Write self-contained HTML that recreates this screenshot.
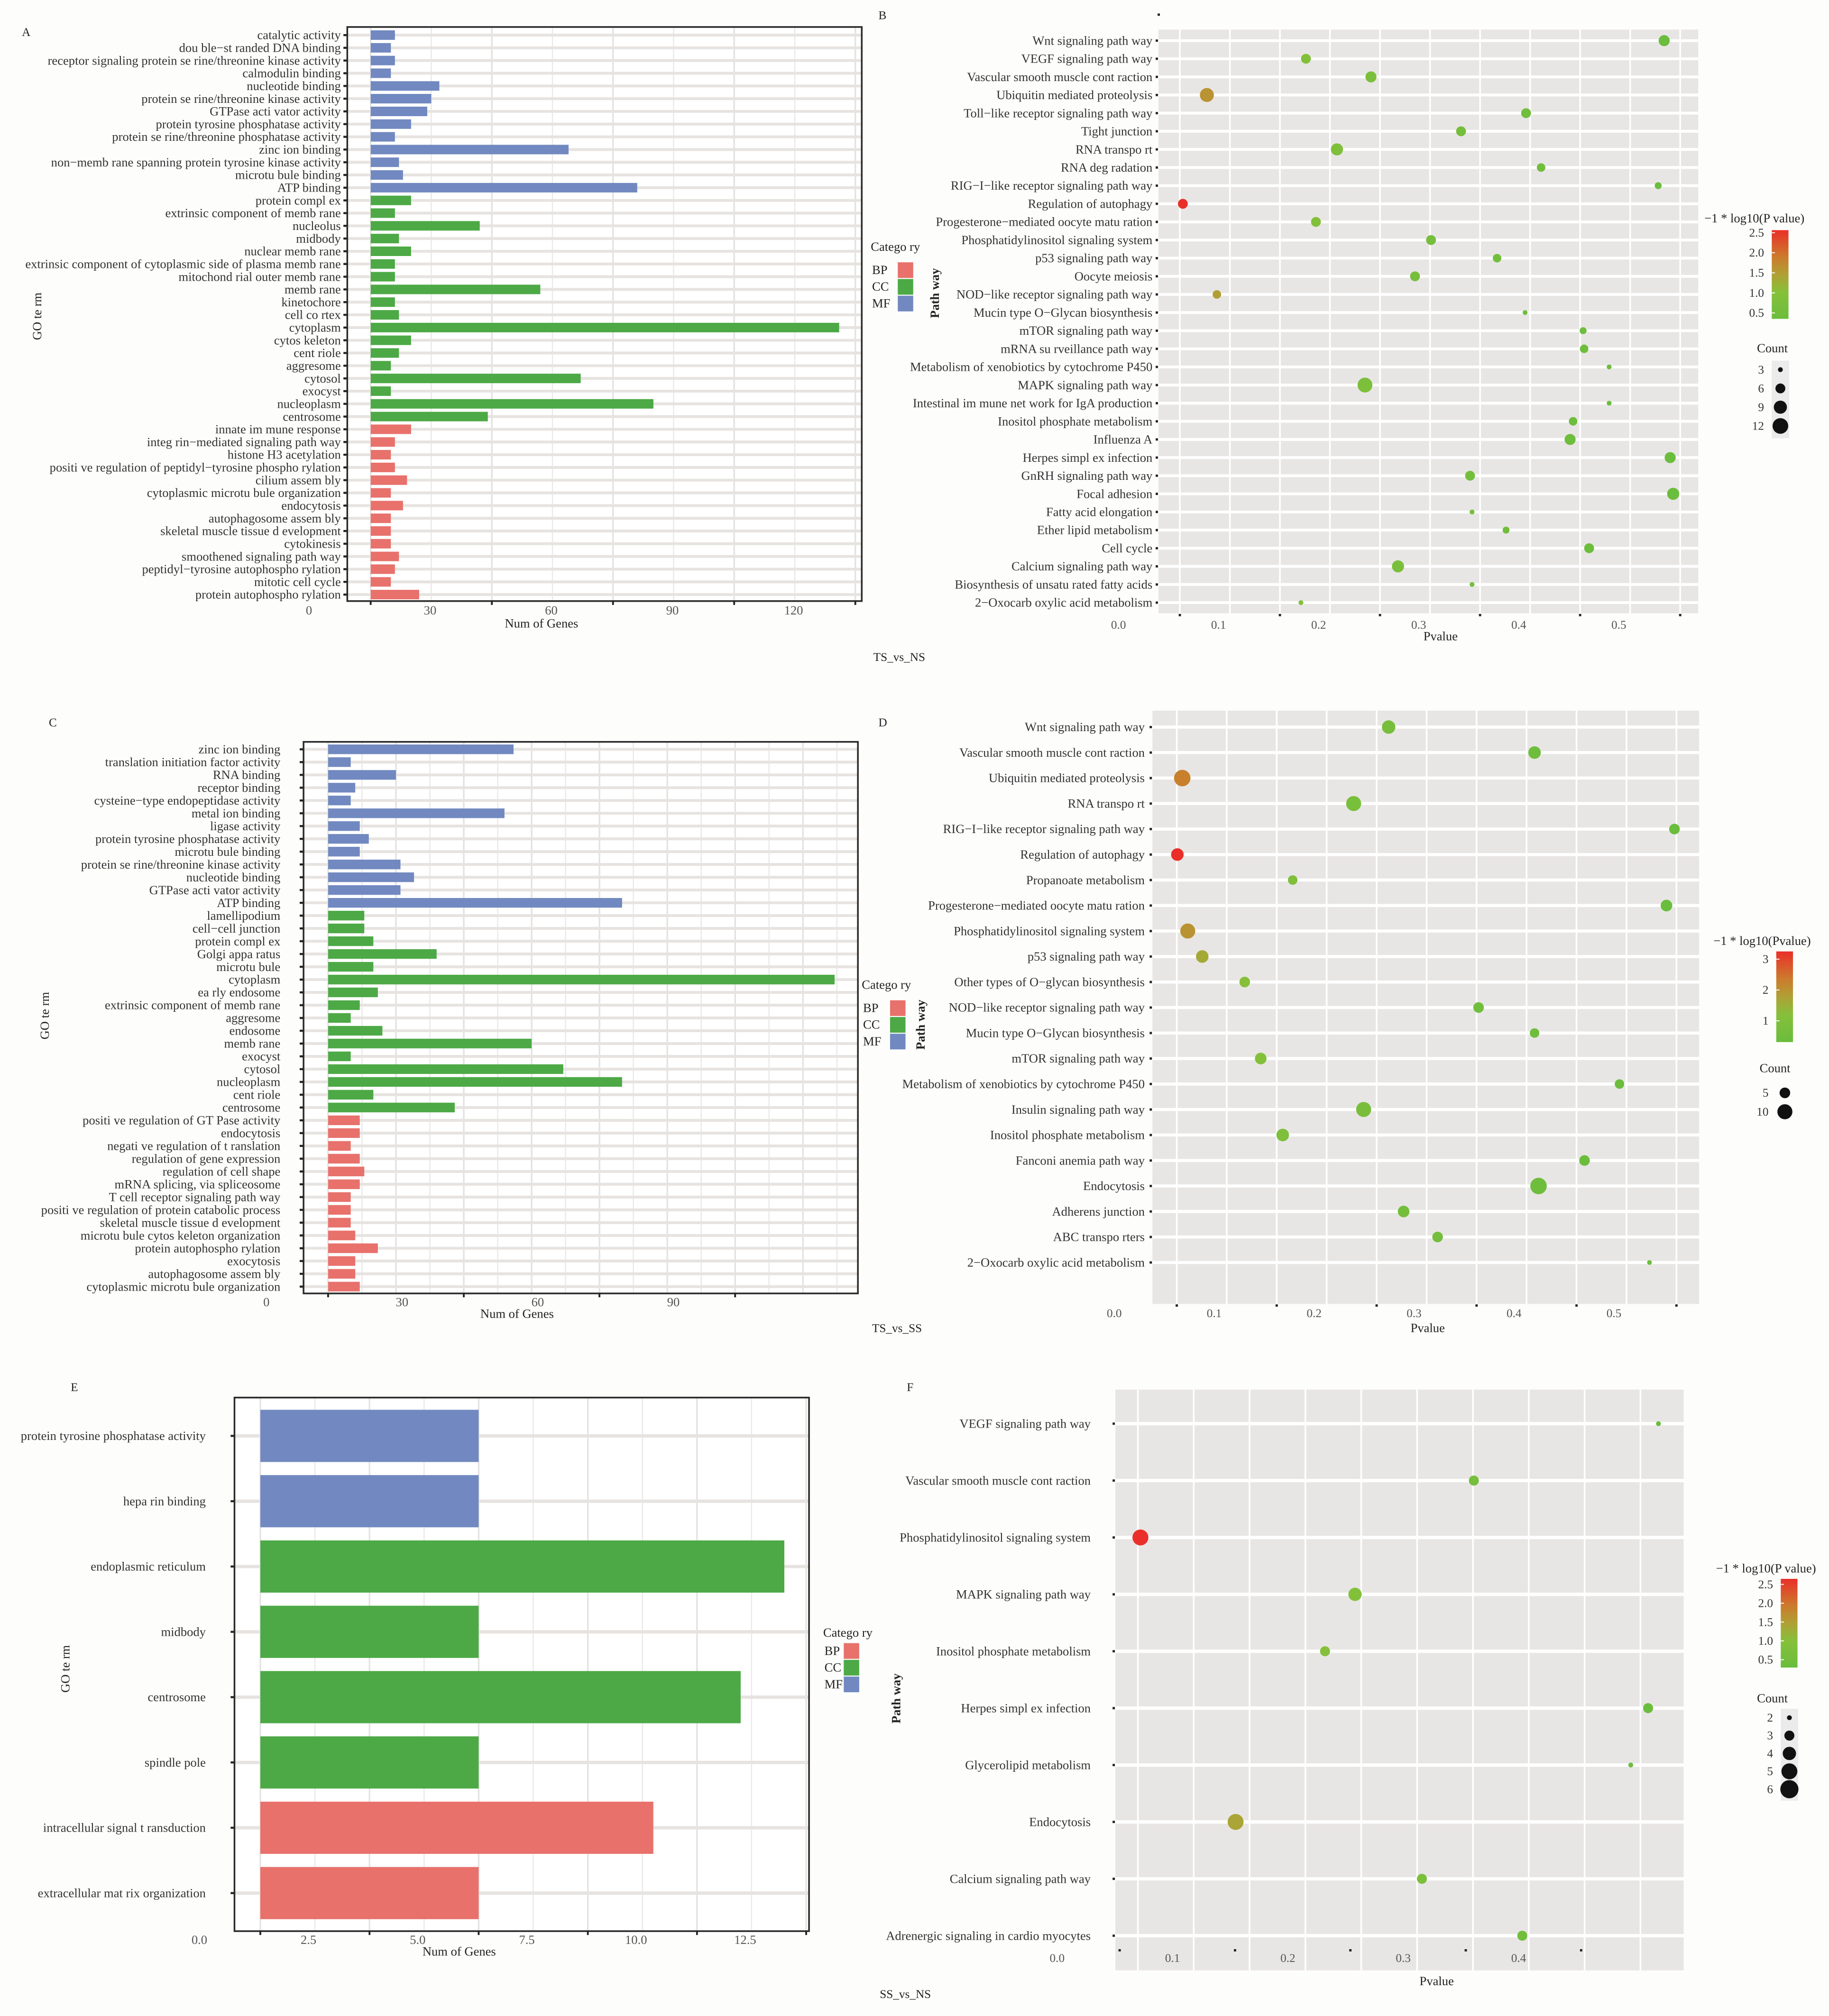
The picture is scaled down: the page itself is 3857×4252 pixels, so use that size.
<!DOCTYPE html>
<html><head><meta charset="utf-8"><title>GO and KEGG enrichment</title>
<style>
html,body{margin:0;padding:0;background:#fdfdfc;}
svg{display:block;font-family:"Liberation Serif",serif;}
</style></head>
<body>
<svg id="chart" xmlns="http://www.w3.org/2000/svg" width="3857" height="4252" viewBox="0 0 1422 1568" preserveAspectRatio="none">
<defs>
<linearGradient id="pgrad" x1="0" y1="1" x2="0" y2="0">
<stop offset="0" stop-color="#6abd3d"/><stop offset="0.3" stop-color="#86c03a"/><stop offset="0.5" stop-color="#b0a035"/><stop offset="0.7" stop-color="#cc7a2c"/><stop offset="1" stop-color="#ea2f2a"/>
</linearGradient>
</defs>
<rect x="0" y="0" width="1422" height="1568" fill="#fdfdfc"/>
</svg>
<script>
// ---------- Panel A data ----------
const aTerms=["catalytic activity","dou ble−st randed DNA binding","receptor signaling protein se rine/threonine kinase activity","calmodulin binding","nucleotide binding","protein se rine/threonine kinase activity","GTPase acti vator activity","protein tyrosine phosphatase activity","protein se rine/threonine phosphatase activity","zinc ion binding","non−memb rane spanning protein tyrosine kinase activity","microtu bule binding","ATP binding","protein compl ex","extrinsic component of memb rane","nucleolus","midbody","nuclear memb rane","extrinsic component of cytoplasmic side of plasma memb rane","mitochond rial outer memb rane","memb rane","kinetochore","cell co rtex","cytoplasm","cytos keleton","cent riole","aggresome","cytosol","exocyst","nucleoplasm","centrosome","innate im mune response","integ rin−mediated signaling path way","histone H3 acetylation","positi ve regulation of peptidyl−tyrosine phospho rylation","cilium assem bly","cytoplasmic microtu bule organization","endocytosis","autophagosome assem bly","skeletal muscle tissue d evelopment","cytokinesis","smoothened signaling path way","peptidyl−tyrosine autophospho rylation","mitotic cell cycle","protein autophospho rylation"];
const aValues=[6,5,6,5,17,15,14,10,6,49,7,8,66,10,6,27,7,10,6,6,42,6,7,116,10,7,5,52,5,70,29,10,6,5,6,9,5,8,5,5,5,7,6,5,12];
const aCats=["MF","MF","MF","MF","MF","MF","MF","MF","MF","MF","MF","MF","MF","CC","CC","CC","CC","CC","CC","CC","CC","CC","CC","CC","CC","CC","CC","CC","CC","CC","CC","BP","BP","BP","BP","BP","BP","BP","BP","BP","BP","BP","BP","BP","BP"];
const aTicks=[0,30,60,90,120];
const aTickLabels=["0","30","60","90","120"];

// ---------- Panel C data ----------
const cTerms=["zinc ion binding","translation initiation factor activity","RNA binding","receptor binding","cysteine−type endopeptidase activity","metal ion binding","ligase activity","protein tyrosine phosphatase activity","microtu bule binding","protein se rine/threonine kinase activity","nucleotide binding","GTPase acti vator activity","ATP binding","lamellipodium","cell−cell junction","protein compl ex","Golgi appa ratus","microtu bule","cytoplasm","ea rly endosome","extrinsic component of memb rane","aggresome","endosome","memb rane","exocyst","cytosol","nucleoplasm","cent riole","centrosome","positi ve regulation of GT Pase activity","endocytosis","negati ve regulation of t ranslation","regulation of gene expression","regulation of cell shape","mRNA splicing, via spliceosome","T cell receptor signaling path way","positi ve regulation of protein catabolic process","skeletal muscle tissue d evelopment","microtu bule cytos keleton organization","protein autophospho rylation","exocytosis","autophagosome assem bly","cytoplasmic microtu bule organization"];
const cValues=[41,5,15,6,5,39,7,9,7,16,19,16,65,8,8,10,24,10,112,11,7,5,12,45,5,52,65,10,28,7,7,5,7,8,7,5,5,5,6,11,6,6,7];
const cCats=["MF","MF","MF","MF","MF","MF","MF","MF","MF","MF","MF","MF","MF","CC","CC","CC","CC","CC","CC","CC","CC","CC","CC","CC","CC","CC","CC","CC","CC","BP","BP","BP","BP","BP","BP","BP","BP","BP","BP","BP","BP","BP","BP"];
const cTicks=[0,30,60,90];
const cTickLabels=["0","30","60","90"];

// ---------- Panel E data ----------
const eTerms=["protein tyrosine phosphatase activity","hepa rin binding","endoplasmic reticulum","midbody","centrosome","spindle pole","intracellular signal t ransduction","extracellular mat rix organization"];
const eValues=[5,5,12,5,11,5,9,5];
const eCats=["MF","MF","CC","CC","CC","CC","BP","BP"];
const eTicks=[0,2.5,5,7.5,10,12.5];
const eTickLabels=["0.0","2.5","5.0","7.5","10.0","12.5"];

// ---------- Panel B data ----------
const bPaths=["Wnt signaling path way","VEGF signaling path way","Vascular smooth muscle cont raction","Ubiquitin mediated proteolysis","Toll−like receptor signaling path way","Tight junction","RNA transpo rt","RNA deg radation","RIG−I−like receptor signaling path way","Regulation of autophagy","Progesterone−mediated oocyte matu ration","Phosphatidylinositol signaling system","p53 signaling path way","Oocyte meiosis","NOD−like receptor signaling path way","Mucin type O−Glycan biosynthesis","mTOR signaling path way","mRNA su rveillance path way","Metabolism of xenobiotics by cytochrome P450","MAPK signaling path way","Intestinal im mune net work for IgA production","Inositol phosphate metabolism","Influenza A","Herpes simpl ex infection","GnRH signaling path way","Focal adhesion","Fatty acid elongation","Ether lipid metabolism","Cell cycle","Calcium signaling path way","Biosynthesis of unsatu rated fatty acids","2−Oxocarb oxylic acid metabolism"];
const bPvalues=[0.484,0.126,0.191,0.027,0.346,0.281,0.157,0.361,0.478,0.003,0.136,0.251,0.317,0.235,0.037,0.345,0.403,0.404,0.429,0.185,0.429,0.393,0.390,0.490,0.290,0.493,0.292,0.326,0.409,0.218,0.292,0.121];
const bCounts=[7,6,7,10,6,6,8,5,4,6,6,6,5,6,5,3,4,5,3,11,3,5,7,7,6,8,3,4,6,8,3,3];
const bTicks=[0,0.1,0.2,0.3,0.4,0.5];
const bTickLabels=["0.0","0.1","0.2","0.3","0.4","0.5"];
const bColorLabels=["2.5","2.0","1.5","1.0","0.5"];
const bSizeLabels=[3,6,9,12];

// ---------- Panel D data ----------
const dPaths=["Wnt signaling path way","Vascular smooth muscle cont raction","Ubiquitin mediated proteolysis","RNA transpo rt","RIG−I−like receptor signaling path way","Regulation of autophagy","Propanoate metabolism","Progesterone−mediated oocyte matu ration","Phosphatidylinositol signaling system","p53 signaling path way","Other types of O−glycan biosynthesis","NOD−like receptor signaling path way","Mucin type O−Glycan biosynthesis","mTOR signaling path way","Metabolism of xenobiotics by cytochrome P450","Insulin signaling path way","Inositol phosphate metabolism","Fanconi anemia path way","Endocytosis","Adherens junction","ABC transpo rters","2−Oxocarb oxylic acid metabolism"];
const dPvalues=[0.212,0.358,0.0055,0.177,0.498,0.0006,0.116,0.490,0.011,0.0255,0.068,0.302,0.358,0.084,0.443,0.187,0.106,0.408,0.362,0.227,0.261,0.473];
const dCounts=[8,7,12,10,5,7,4,6,10,7,5,5,4,6,4,10,7,5,12,6,5,1];
const dTicks=[0,0.1,0.2,0.3,0.4,0.5];
const dTickLabels=["0.0","0.1","0.2","0.3","0.4","0.5"];
const dColorLabels=["3","2","1"];
const dSizeLabels=[5,10];

// ---------- Panel F data ----------
const fPaths=["VEGF signaling path way","Vascular smooth muscle cont raction","Phosphatidylinositol signaling system","MAPK signaling path way","Inositol phosphate metabolism","Herpes simpl ex infection","Glycerolipid metabolism","Endocytosis","Calcium signaling path way","Adrenergic signaling in cardio myocytes"];
const fPvalues=[0.467,0.307,0.018,0.204,0.178,0.458,0.443,0.1005,0.262,0.349];
const fCounts=[2,3,5,4,3,3,2,5,3,3];
const fTicks=[0,0.1,0.2,0.3,0.4];
const fTickLabels=["0.0","0.1","0.2","0.3","0.4"];
const fColorLabels=["2.5","2.0","1.5","1.0","0.5"];
const fSizeLabels=[2,3,4,5,6];

const NS="http://www.w3.org/2000/svg";
const svg=document.getElementById("chart");
const CATCOL={BP:"#e8716c",CC:"#4da946",MF:"#7189c0"};
const FS=9.8;
function mk(tag,attrs,parent){const e=document.createElementNS(NS,tag);for(const k in attrs)e.setAttribute(k,attrs[k]);(parent||svg).appendChild(e);return e;}
function txt(s,x,y,size,anchor,parent,extra){const t=mk("text",Object.assign({x:x,y:y,"font-size":size,"text-anchor":anchor||"start",fill:"#333"},extra||{}),parent);t.setAttribute("xml:space","preserve");t.textContent=s;return t;}

function lerp(a,b,t){return a+(b-a)*t;}
const STOPS=[[0,[106,189,61]],[0.3,[134,192,58]],[0.5,[176,160,53]],[0.7,[204,122,44]],[1,[234,47,42]]];
function colorAt(t){t=Math.max(0,Math.min(1,t));for(let i=1;i<STOPS.length;i++){if(t<=STOPS[i][0]){const a=STOPS[i-1],b=STOPS[i];const u=(t-a[0])/(b[0]-a[0]);return "rgb("+a[1].map((v,k)=>Math.round(lerp(v,b[1][k],u))).join(",")+")";}}return "rgb(234,47,42)";}

function barPanel(cfg,terms,values,cats){
  const g=mk("g",{});
  
  
  const xs=v=>cfg.zx+v*cfg.unit;
  const ys=i=>cfg.rowY0+i*cfg.pitch;
  mk("rect",{x:cfg.x0,y:cfg.y0,width:cfg.x1-cfg.x0,height:cfg.y1-cfg.y0,fill:"#ffffff"},g);
  for(let v=cfg.gridStep/2;xs(v)<cfg.x1;v+=cfg.gridStep){const l=mk("line",{x1:xs(v),x2:xs(v),y1:cfg.y0,y2:cfg.y1,stroke:"#ebe9e7","stroke-width":0.9},g);}
  for(let v=0;xs(v)<cfg.x1;v+=cfg.gridStep){const l=mk("line",{x1:xs(v),x2:xs(v),y1:cfg.y0,y2:cfg.y1,stroke:"#e4e2e0","stroke-width":1.2},g);}
  terms.forEach((t,i)=>{const l=mk("line",{x1:cfg.x0,x2:cfg.x1,y1:ys(i),y2:ys(i),stroke:"#e6e3e0","stroke-width":cfg.hgw},g);});
  terms.forEach((t,i)=>{
    const b=mk("rect",{x:xs(0),y:ys(i)-cfg.barH/2,width:xs(values[i])-xs(0),height:cfg.barH,fill:CATCOL[cats[i]]},g);
    
    
    const tk=mk("rect",{x:cfg.x0-3,y:ys(i)-0.8,width:3,height:1.6,fill:"#222"},g);
    
    
    const lb=txt(t,cfg.textEnd,ys(i)+3.2,cfg.fs,"end",g);
    
    
  });
  const fr=mk("rect",{x:cfg.x0,y:cfg.y0,width:cfg.x1-cfg.x0,height:cfg.y1-cfg.y0,fill:"none",stroke:"#2a2a2a","stroke-width":1.3},g);
  
  
  cfg.ticks.forEach((v,i)=>{
    const tk=mk("rect",{x:xs(v)-0.7,y:cfg.y1,width:1.4,height:3,fill:"#222"},g);
    
    
    const lb=txt(cfg.tickLabels[i],xs(v)+cfg.labOff,cfg.labY,cfg.fs,"middle",g,{fill:"#555"});
    
    
  });
  const xt=txt("Num of Genes",cfg.xtX,cfg.xtY,cfg.fs,"middle",g,{fill:"#222"});
  
  
  const yt=txt("GO te rm",0,0,cfg.fs,"middle",g,{fill:"#222",transform:"translate("+cfg.ytX+","+cfg.ytY+") rotate(-90)"});
  
  
  const lg=mk("g",{},g);
  
  
  const lt=txt("Catego ry",cfg.lgX,cfg.lgY,cfg.fs,"start",lg,{fill:"#222"});
  
  
  ["BP","CC","MF"].forEach((c,k)=>{
    const sy=cfg.lgY+cfg.lgGap+k*cfg.lgH;
    const sw=mk("rect",{x:cfg.lgSX,y:sy,width:12,height:cfg.lgH-0.8,fill:CATCOL[c]},lg);
    
    
    const et=txt(c,cfg.lgX+1,sy+cfg.lgH*0.7,cfg.fs,"start",lg,{fill:"#222"});
    
    
  });
}

function bubblePanel(cfg,paths,pvals,counts,colorLabels,sizeLabels){
  const g=mk("g",{});
  
  
  const xs=p=>cfg.zx+p*cfg.unit;
  const ys=i=>cfg.rowY0+i*cfg.pitch;
  const lv=pvals.map(p=>-Math.log10(p));
  const vmin=Math.min(...lv),vmax=Math.max(...lv);
  mk("rect",{x:cfg.x0,y:cfg.y0,width:cfg.x1-cfg.x0,height:cfg.y1-cfg.y0,fill:"#e8e6e4"},g);
  for(let k=0;;k++){const v=cfg.gStart+k*cfg.gStep;if(xs(v)>cfg.x1)break;const l=mk("line",{x1:xs(v),x2:xs(v),y1:cfg.y0,y2:cfg.y1,stroke:"#ffffff","stroke-width":1.3},g);}
  paths.forEach((t,i)=>{const l=mk("line",{x1:cfg.x0,x2:cfg.x1,y1:ys(i),y2:ys(i),stroke:"#ffffff","stroke-width":cfg.hgw},g);});
  paths.forEach((t,i)=>{
    const c=mk("circle",{cx:xs(pvals[i]),cy:ys(i),r:cfg.rf(counts[i]),fill:colorAt((lv[i]-vmin)/(vmax-vmin))},g);
    
    
    const tk=mk("rect",{x:cfg.tickX,y:ys(i)-0.9,width:1.8,height:1.8,fill:"#222"},g);
    
    
    const lb=txt(t,cfg.textEnd,ys(i)+3.2,cfg.fs,"end",g);
    
    
  });
  cfg.ticks.forEach((v,i)=>{
    const tk=mk("rect",{x:xs(v)-0.9,y:cfg.tickY,width:1.8,height:1.8,fill:"#222"},g);
    
    
    const lb=txt(cfg.tickLabels[i],xs(v)+cfg.labOff,cfg.labY,cfg.fs-0.5,"middle",g,{fill:"#555"});
    
    
  });
  const xt=txt("Pvalue",cfg.xtX,cfg.xtY,cfg.fs,"middle",g,{fill:"#222"});
  
  
  const yt=txt("Path way",0,0,cfg.fs,"middle",g,{fill:"#222","font-weight":"bold",transform:"translate("+cfg.ytX+","+cfg.ytY+") rotate(-90)"});
  
  
  const cb=mk("g",{},g);
  
  
  const ct=txt(cfg.cbTitle,cfg.cbTX,cfg.cbTY,cfg.fs,"middle",cb,{fill:"#222"});
  
  
  const bar=mk("rect",{x:cfg.cbX,y:cfg.cbY0,width:13,height:cfg.cbY1-cfg.cbY0,fill:"url(#pgrad)"},cb);
  
  
  colorLabels.forEach((s,k)=>{
    const y=cfg.cbLab0+k*cfg.cbLabStep;
    const l=txt(s,cfg.cbX-6,y+3,cfg.fs-0.5,"end",cb,{fill:"#333"});
    
    
    const m=mk("line",{x1:cfg.cbX,x2:cfg.cbX+2.5,y1:y,y2:y,stroke:"#fff","stroke-width":0.7},cb);
    
    
  });
  const sl=mk("g",{},g);
  
  
  const st=txt("Count",cfg.slTX,cfg.slTY,cfg.fs,"middle",sl,{fill:"#222"});
  
  
  if(cfg.slBg){const bg=mk("rect",{x:cfg.cbX,y:cfg.slY0-7,width:13.5,height:(sizeLabels.length)*cfg.slStep+2,fill:"#ebebeb"},sl);}
  sizeLabels.forEach((c,k)=>{
    const y=cfg.slY0+k*cfg.slStep;
    const d=mk("circle",{cx:cfg.cbX+6.7,cy:y,r:cfg.rf(c),fill:"#111"},sl);
    
    
    const l=txt(String(c),cfg.cbX-6,y+3,cfg.fs-0.5,"end",sl,{fill:"#333"});
    
    
  });
}

barPanel({name:"panel-a-go-bar-chart",x0:270,x1:670,y0:21,y1:467.5,zx:288.2,unit:3.14,gridStep:30,rowY0:27.3,pitch:9.89,barH:7.4,hgw:2.2,ticks:aTicks,tickLabels:aTickLabels,labOff:-48,labY:478,textEnd:265,fs:FS,xtX:421,xtY:488,ytX:32,ytY:246,lgX:677,lgY:195,lgGap:9,lgH:13,lgSX:698},aTerms,aValues,aCats);
barPanel({name:"panel-c-go-bar-chart",x0:236,x1:667,y0:577,y1:1006,zx:255.1,unit:3.516,gridStep:15,rowY0:582.8,pitch:9.95,barH:7.5,hgw:2.2,ticks:cTicks,tickLabels:cTickLabels,labOff:-48,labY:1016,textEnd:218,fs:FS,xtX:402,xtY:1025,ytX:38,ytY:790,lgX:670,lgY:769,lgGap:9,lgH:13,lgSX:692},cTerms,cValues,cCats);
barPanel({name:"panel-e-go-bar-chart",x0:182.3,x1:629,y0:1087,y1:1502,zx:202.4,unit:33.95,gridStep:2.5,rowY0:1116.8,pitch:50.8,barH:40.6,hgw:2.6,ticks:eTicks,tickLabels:eTickLabels,labOff:-47.4,labY:1512,textEnd:160,fs:FS,xtX:357,xtY:1521,ytX:54,ytY:1298,lgX:640,lgY:1273,lgGap:5,lgH:13,lgSX:656},eTerms,eValues,eCats);

bubblePanel({name:"panel-b-kegg-bubble",x0:900.7,x1:1320.3,y0:23,y1:477,zx:917.3,unit:778,gStart:0,gStep:0.05,rowY0:31.6,pitch:14.1,hgw:2.2,tickX:898.5,textEnd:896,fs:FS,ticks:bTicks,tickLabels:bTickLabels,tickY:477.5,labOff:-47.7,labY:489,xtX:1120,xtY:498,ytX:730,ytY:228,cbTitle:"−1 * log10(P value)",cbTX:1364,cbTY:173,cbX:1377.5,cbY0:179,cbY1:248,cbLab0:181,cbLab1:0,cbLabStep:15.6,slTX:1378,slTY:274,slY0:287.5,slStep:14.6,slBg:true,rf:c=>Math.sqrt(Math.max(0.8,-7.6+3.73*c))},bPaths,bPvalues,bCounts,bColorLabels,bSizeLabels);
bubblePanel({name:"panel-d-kegg-bubble",x0:896,x1:1321,y0:552.7,y1:1014.2,zx:914.9,unit:777,gStart:0,gStep:0.05,rowY0:565.5,pitch:19.83,hgw:2.4,tickX:893.8,textEnd:890,fs:FS,ticks:dTicks,tickLabels:dTickLabels,tickY:1014.5,labOff:-48.6,labY:1024.5,xtX:1110,xtY:1036,ytX:719,ytY:797,cbTitle:"−1 * log10(Pvalue)",cbTX:1370,cbTY:735,cbX:1381,cbY0:740,cbY1:810.5,cbLab0:746,cbLab1:0,cbLabStep:24,slTX:1380,slTY:834,slY0:850,slStep:14.7,slBg:false,rf:c=>1.85*Math.sqrt(c)},dPaths,dPvalues,dCounts,dColorLabels,dSizeLabels);
bubblePanel({name:"panel-f-kegg-bubble",x0:867.2,x1:1309,y0:1080.8,y1:1532.5,zx:870.5,unit:897,gStart:0.0158,gStep:0.0484,rowY0:1107.3,pitch:44.25,hgw:2.6,tickX:865,textEnd:848,fs:FS,ticks:fTicks,tickLabels:fTickLabels,tickY:1516,labOff:-48.6,labY:1526,xtX:1117,xtY:1544,ytX:700,ytY:1321,cbTitle:"−1 * log10(P value)",cbTX:1373,cbTY:1223,cbX:1384.5,cbY0:1228,cbY1:1297,cbLab0:1232.3,cbLab1:0,cbLabStep:14.65,slTX:1378,slTY:1324,slY0:1336,slStep:13.9,slBg:true,rf:c=>Math.sqrt(Math.max(0.8,-19.6+11.6*c))},fPaths,fPvalues,fCounts,fColorLabels,fSizeLabels);

const letters=[["A",17,28],["B",683,15],["C",38,565],["D",683,565],["E",55,1082],["F",705,1082]];
letters.forEach(l=>{
  const t=txt(l[0],l[1],l[2],9.3,"start",svg,{fill:"#222"});
  
  
});
const comps=[["TS_vs_NS",679,514],["TS_vs_SS",678,1036],["SS_vs_NS",684,1554]];
comps.forEach(c=>{
  const t=txt(c[0],c[1],c[2],9.3,"start",svg,{fill:"#222"});
  
  
});
const dot=mk("rect",{x:900,y:10.5,width:1.8,height:1.8,fill:"#222"});


</script>
</body></html>
